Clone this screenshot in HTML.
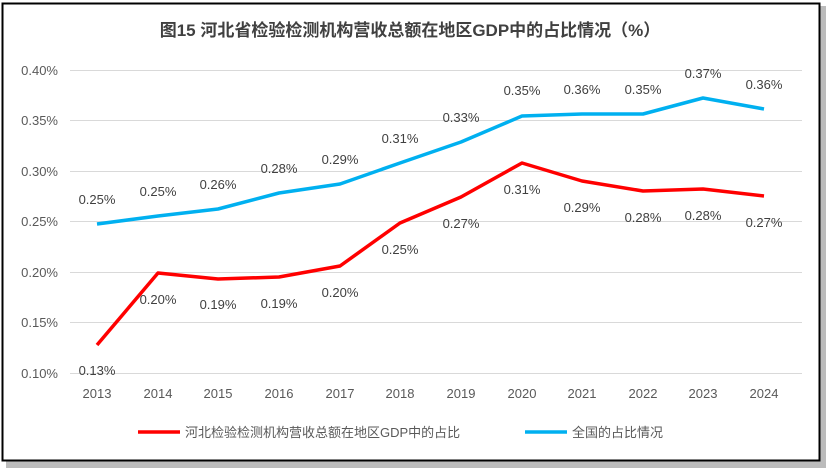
<!DOCTYPE html>
<html><head><meta charset="utf-8"><style>
body{margin:0;background:#fff;}
svg text{font-family:"Liberation Sans","Noto Sans CJK SC",sans-serif;}
</style></head><body>
<svg width="828" height="470" xmlns="http://www.w3.org/2000/svg">
<rect x="0" y="0" width="828" height="470" fill="#fff"/>
<rect x="6" y="6" width="820" height="462" fill="#bbb"/>
<rect x="2.5" y="3.5" width="817" height="457" fill="#fff" stroke="#000" stroke-width="2"/>
<text x="410" y="36" text-anchor="middle" font-size="17" font-weight="bold" fill="#404040">图15 河北省检验检测机构营收总额在地区GDP中的占比情况（%）</text>
<g stroke="#d9d9d9" stroke-width="1">
<line x1="70" x2="802" y1="70.5" y2="70.5"/>
<line x1="70" x2="802" y1="120.5" y2="120.5"/>
<line x1="70" x2="802" y1="171.5" y2="171.5"/>
<line x1="70" x2="802" y1="221.5" y2="221.5"/>
<line x1="70" x2="802" y1="272.5" y2="272.5"/>
<line x1="70" x2="802" y1="322.5" y2="322.5"/>
<line x1="70" x2="802" y1="373.5" y2="373.5"/>
</g>
<g font-size="13" fill="#595959" text-anchor="end">
<text x="58" y="75">0.40%</text><text x="58" y="125">0.35%</text><text x="58" y="176">0.30%</text>
<text x="58" y="226">0.25%</text><text x="58" y="277">0.20%</text><text x="58" y="327">0.15%</text><text x="58" y="378">0.10%</text>
</g>
<g font-size="13" fill="#595959" text-anchor="middle">
<text x="97" y="398">2013</text><text x="158" y="398">2014</text><text x="218" y="398">2015</text><text x="279" y="398">2016</text>
<text x="340" y="398">2017</text><text x="400" y="398">2018</text><text x="461" y="398">2019</text><text x="522" y="398">2020</text>
<text x="582" y="398">2021</text><text x="643" y="398">2022</text><text x="703" y="398">2023</text><text x="764" y="398">2024</text>
</g>
<polyline fill="none" stroke="#00b0f0" stroke-width="3.5" stroke-linejoin="round" points="97,224 158,216 218,209 279,193 340,184 400,163 461,142 522,116 582,114 643,114 703,98 764,109"/>
<polyline fill="none" stroke="#ff0000" stroke-width="3.5" stroke-linejoin="round" points="97,345 158,273 218,279 279,277 340,266 400,223 461,197 522,163 582,181 643,191 703,189 764,196"/>
<g font-size="13" fill="#404040" text-anchor="middle">
<text x="97" y="204">0.25%</text><text x="158" y="196">0.25%</text><text x="218" y="189">0.26%</text><text x="279" y="173">0.28%</text>
<text x="340" y="164">0.29%</text><text x="400" y="143">0.31%</text><text x="461" y="122">0.33%</text><text x="522" y="95">0.35%</text>
<text x="582" y="94">0.36%</text><text x="643" y="94">0.35%</text><text x="703" y="78">0.37%</text><text x="764" y="89">0.36%</text>
<text x="97" y="375">0.13%</text><text x="158" y="304">0.20%</text><text x="218" y="309">0.19%</text><text x="279" y="308">0.19%</text>
<text x="340" y="297">0.20%</text><text x="400" y="254">0.25%</text><text x="461" y="228">0.27%</text><text x="522" y="194">0.31%</text>
<text x="582" y="212">0.29%</text><text x="643" y="222">0.28%</text><text x="703" y="220">0.28%</text><text x="764" y="227">0.27%</text>
</g>
<line x1="138" x2="180" y1="432" y2="432" stroke="#ff0000" stroke-width="3.5"/>
<text x="185" y="437" font-size="13" fill="#595959">河北检验检测机构营收总额在地区GDP中的占比</text>
<line x1="525" x2="567" y1="432" y2="432" stroke="#00b0f0" stroke-width="3.5"/>
<text x="572" y="437" font-size="13" fill="#595959">全国的占比情况</text>
</svg>
</body></html>
